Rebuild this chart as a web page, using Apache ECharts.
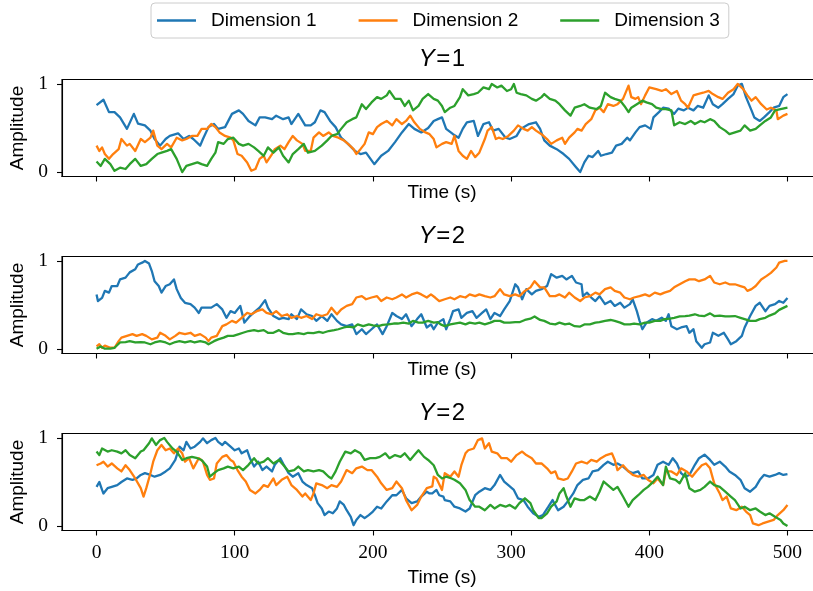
<!DOCTYPE html>
<html>
<head>
<meta charset="utf-8">
<script src="https://cdn.jsdelivr.net/npm/echarts@6/dist/echarts.min.js"></script>
<style>
  html, body { margin: 0; padding: 0; background: #ffffff; }
  #chart { width: 813px; height: 591px; }
</style>
</head>
<body>
<div id="chart"></div>
<script>
// Series names, panel labels and tick positions
const dimensions = ['Dimension 1', 'Dimension 2', 'Dimension 3'];
const panelLabels = ['1', '2', '2'];
const timeTicks = [0, 100, 200, 300, 400, 500];
const ampTicks = [0, 1];

// Panel Y=1 : [time (s), amplitude]
const p1Dim1 = [[0,.76],[5,.82],[9,.68],[13,.68],[17,.62],[22,.49],[27,.66],[30,.55],[35,.53],[39,.47],[42,.375],[46,.30],[50,.375],[53,.41],[59,.44],[63,.375],[67,.41],[70,.375],[75,.30],[77,.375],[81,.51],[85,.545],[88,.49],[93,.51],[98,.66],[103,.70],[106,.66],[110,.58],[115,.53],[118,.62],[122,.62],[127,.60],[130,.64],[135,.60],[139,.62],[141,.545],[146,.66],[151,.53],[155,.53],[158,.565],[162,.70],[165,.68],[169,.58],[173,.51],[177,.39],[182,.32],[187,.24],[191,.205],[195,.22],[201,.09],[206,.185],[211,.24],[216,.34],[221,.45],[226,.545],[230,.49],[235,.45],[240,.50],[244,.58],[247,.60],[250,.62],[253,.49],[258,.43],[262,.39],[265,.49],[268,.565],[273,.58],[276,.41],[280,.545],[284,.565],[287,.47],[291,.49],[296,.39],[299,.375],[304,.41],[307,.49],[313,.545],[318,.565],[321,.49],[324,.36],[328,.30],[333,.26],[338,.205],[342,.15],[347,.055],[350,0],[353,.11],[356,.185],[359,.17],[363,.24],[365,.185],[369,.205],[373,.22],[376,.30],[380,.32],[384,.39],[386,.36],[390,.45],[393,.51],[397,.53],[401,.49],[403,.62],[407,.68],[410,.73],[414,.72],[418,.66],[421,.72],[425,.70],[428,.73],[432,.70],[435,.75],[439,.73],[443,.87],[446,.77],[450,.73],[453,.77],[457,.83],[461,.885],[464,.98],[467,1.0],[470,.85],[474,.70],[476,.62],[480,.58],[483,.62],[487,.68],[490,.73],[494,.75],[497,.85],[500,.885]];
const p1Dim2 = [[0,.30],[2,.24],[4,.28],[6,.205],[9,.15],[12,.205],[16,.26],[18,.375],[22,.30],[24,.32],[28,.24],[32,.375],[35,.34],[39,.39],[41,.47],[44,.30],[47,.26],[51,.32],[54,.28],[58,.39],[62,.36],[65,.375],[69,.41],[73,.41],[76,.49],[80,.49],[83,.545],[86,.51],[89,.45],[93,.41],[97,.39],[99,.36],[102,.205],[105,.185],[109,.11],[112,.015],[115,.035],[118,.15],[121,.185],[123,.11],[127,.205],[129,.26],[133,.30],[136,.26],[139,.34],[142,.41],[145,.36],[149,.32],[151,.24],[155,.24],[157,.39],[161,.45],[164,.41],[168,.45],[171,.41],[175,.39],[179,.36],[182,.32],[186,.26],[188,.205],[191,.26],[194,.32],[197,.45],[200,.43],[203,.51],[206,.545],[210,.58],[214,.53],[217,.60],[221,.545],[224,.58],[227,.64],[230,.565],[234,.49],[238,.45],[241,.43],[244,.375],[246,.28],[250,.32],[253,.34],[257,.32],[259,.41],[262,.24],[265,.185],[268,.15],[271,.24],[274,.17],[277,.22],[281,.375],[283,.47],[286,.51],[289,.375],[291,.39],[294,.375],[298,.41],[302,.47],[305,.53],[309,.49],[312,.47],[315,.51],[318,.47],[322,.43],[326,.375],[329,.32],[333,.36],[337,.39],[339,.32],[342,.39],[346,.45],[348,.49],[351,.47],[354,.545],[358,.60],[361,.70],[364,.73],[367,.68],[370,.77],[374,.75],[377,.77],[381,.83],[385,.98],[387,.85],[390,.83],[392,.85],[394,.77],[397,.87],[400,.96],[405,.94],[409,.92],[412,.94],[416,.885],[420,.92],[423,.81],[426,.77],[428,.73],[432,.87],[435,.885],[439,.90],[443,.92],[446,.885],[450,.85],[453,.83],[457,.90],[461,.94],[464,1.0],[468,.94],[471,.87],[474,.81],[477,.85],[481,.77],[485,.71],[488,.73],[492,.70],[493,.60],[497,.64],[500,.66]];
const p1Dim3 = [[0,.12],[3,.07],[6,.15],[10,.09],[13,.015],[17,.05],[21,.035],[24,.09],[28,.15],[32,.07],[36,.09],[40,.15],[44,.205],[47,.22],[51,.24],[54,.26],[58,.15],[62,0],[65,.07],[69,.09],[73,.11],[76,.09],[80,.07],[83,.15],[86,.22],[88,.34],[92,.32],[95,.375],[99,.39],[103,.32],[106,.30],[110,.32],[114,.28],[117,.24],[121,.185],[124,.28],[128,.22],[132,.28],[135,.185],[139,.11],[142,.205],[146,.26],[150,.32],[153,.22],[158,.24],[163,.30],[167,.36],[170,.41],[174,.43],[177,.49],[181,.565],[185,.60],[188,.62],[192,.77],[195,.715],[199,.79],[203,.85],[206,.83],[210,.87],[212,.92],[216,.83],[220,.83],[223,.75],[226,.81],[229,.70],[233,.75],[236,.83],[240,.885],[244,.83],[247,.81],[250,.75],[252,.68],[256,.73],[259,.75],[263,.85],[265,.94],[269,.87],[273,.885],[276,.90],[280,.96],[284,.94],[286,1.0],[290,.96],[293,.98],[297,.92],[300,.94],[302,1.0],[304,.90],[307,.885],[311,.87],[315,.83],[318,.81],[322,.85],[324,.885],[328,.83],[332,.81],[335,.77],[339,.70],[343,.64],[346,.73],[350,.75],[353,.77],[357,.73],[362,.715],[365,.75],[368,.90],[372,.85],[375,.83],[379,.81],[382,.75],[385,.68],[387,.73],[391,.77],[395,.81],[398,.79],[402,.77],[405,.73],[409,.715],[412,.715],[416,.70],[418,.53],[422,.565],[426,.545],[430,.58],[433,.545],[437,.58],[440,.565],[444,.60],[447,.58],[451,.51],[455,.47],[458,.43],[462,.45],[466,.47],[469,.53],[473,.47],[477,.49],[480,.53],[484,.58],[488,.62],[491,.70],[495,.715],[500,.73]];

// First panel Y=2
const p2Dim1 = [[0,.62],[1,.545],[4,.58],[6,.66],[9,.64],[11,.715],[15,.715],[17,.79],[21,.81],[24,.87],[28,.905],[30,.96],[33,.98],[35,1.0],[38,.97],[40,.885],[42,.77],[45,.715],[47,.64],[50,.715],[53,.735],[56,.79],[58,.68],[61,.58],[64,.525],[68,.51],[71,.47],[74,.41],[76,.47],[80,.47],[83,.47],[87,.51],[91,.45],[94,.355],[97,.43],[100,.41],[104,.49],[107,.30],[111,.375],[115,.43],[118,.47],[122,.555],[124,.47],[128,.375],[132,.34],[135,.355],[139,.34],[141,.395],[145,.34],[148,.45],[152,.395],[156,.375],[159,.32],[163,.375],[167,.32],[170,.395],[174,.32],[177,.28],[181,.26],[185,.28],[188,.17],[192,.225],[195,.17],[199,.225],[203,.28],[207,.17],[210,.26],[214,.41],[217,.375],[221,.34],[224,.395],[228,.26],[232,.34],[235,.395],[239,.245],[242,.28],[244,.225],[247,.30],[251,.34],[253,.225],[256,.34],[258,.43],[262,.45],[264,.355],[268,.41],[272,.43],[275,.355],[279,.41],[282,.45],[285,.34],[288,.41],[292,.375],[295,.45],[299,.545],[303,.735],[305,.70],[308,.565],[311,.68],[315,.62],[318,.66],[322,.68],[326,.715],[329,.85],[333,.81],[337,.83],[340,.79],[344,.83],[347,.755],[351,.735],[352,.60],[355,.64],[358,.585],[361,.545],[364,.60],[368,.51],[372,.545],[375,.49],[379,.525],[382,.47],[386,.51],[388,.565],[391,.43],[393,.32],[395,.225],[398,.30],[402,.34],[405,.32],[409,.355],[412,.32],[414,.395],[416,.26],[420,.225],[423,.245],[427,.26],[429,.185],[432,.225],[434,.09],[438,.015],[440,.055],[444,.075],[446,.185],[450,.15],[454,.185],[457,.11],[459,.055],[463,.09],[467,.15],[469,.245],[473,.375],[477,.49],[480,.525],[484,.43],[487,.49],[491,.51],[494,.545],[497,.525],[500,.58]];
const p2Dim2 = [[0,.03],[2,.055],[4,.015],[6,.04],[10,.015],[13,.015],[16,.09],[18,.13],[22,.15],[26,.17],[29,.15],[33,.17],[36,.15],[40,.11],[44,.13],[46,.185],[50,.15],[53,.11],[57,.15],[60,.185],[64,.17],[68,.185],[71,.15],[75,.17],[79,.13],[81,.09],[83,.13],[87,.15],[91,.26],[94,.28],[98,.32],[101,.30],[105,.355],[109,.41],[112,.395],[116,.43],[120,.45],[123,.41],[127,.395],[130,.43],[134,.375],[138,.395],[141,.355],[145,.375],[148,.355],[152,.375],[156,.34],[159,.395],[163,.375],[167,.395],[170,.47],[174,.395],[177,.45],[181,.49],[185,.51],[188,.585],[192,.60],[195,.565],[199,.585],[203,.60],[206,.545],[210,.585],[214,.565],[217,.585],[221,.62],[224,.585],[228,.62],[232,.64],[235,.62],[239,.585],[242,.62],[245,.585],[248,.545],[252,.565],[256,.585],[259,.565],[263,.60],[267,.585],[270,.62],[274,.60],[277,.62],[281,.60],[285,.585],[288,.60],[292,.68],[295,.62],[299,.60],[303,.62],[306,.60],[310,.66],[314,.70],[317,.77],[321,.70],[324,.70],[328,.60],[332,.60],[335,.62],[339,.585],[342,.64],[346,.585],[350,.545],[353,.585],[357,.60],[361,.64],[364,.62],[368,.68],[372,.70],[375,.66],[379,.64],[382,.585],[386,.565],[389,.585],[393,.60],[397,.62],[400,.60],[404,.64],[408,.62],[411,.64],[415,.66],[418,.70],[422,.735],[426,.77],[429,.79],[433,.79],[436,.77],[440,.79],[444,.83],[447,.755],[451,.735],[455,.755],[458,.735],[462,.735],[466,.715],[469,.70],[471,.66],[474,.68],[477,.715],[481,.79],[485,.83],[488,.865],[492,.925],[494,.98],[498,1.0],[500,1.0]];
const p2Dim3 = [[0,.005],[3,.03],[6,.005],[10,.005],[13,.015],[17,.075],[21,.08],[24,.09],[28,.075],[32,.08],[35,.075],[39,.055],[42,.075],[46,.09],[50,.075],[53,.055],[57,.08],[60,.09],[64,.075],[68,.09],[71,.075],[75,.09],[79,.075],[81,.055],[85,.09],[88,.11],[92,.13],[95,.15],[99,.15],[103,.17],[106,.185],[110,.205],[114,.215],[117,.205],[121,.215],[124,.185],[128,.185],[132,.215],[135,.185],[139,.17],[142,.17],[146,.18],[150,.17],[153,.185],[157,.18],[161,.195],[164,.185],[168,.205],[172,.215],[175,.225],[179,.245],[182,.255],[186,.245],[189,.28],[193,.26],[197,.28],[200,.27],[204,.26],[207,.275],[211,.28],[215,.29],[218,.29],[222,.30],[226,.29],[229,.32],[233,.30],[236,.30],[240,.32],[244,.30],[247,.305],[249,.28],[252,.26],[256,.28],[259,.29],[263,.30],[267,.28],[270,.30],[274,.29],[277,.30],[281,.28],[285,.30],[288,.32],[292,.32],[295,.30],[299,.30],[303,.305],[306,.305],[310,.33],[314,.345],[317,.37],[321,.33],[324,.32],[328,.29],[332,.28],[335,.30],[339,.28],[342,.29],[346,.26],[350,.255],[353,.28],[357,.28],[361,.30],[364,.305],[368,.32],[372,.33],[375,.32],[379,.30],[382,.28],[386,.28],[389,.29],[393,.28],[397,.30],[400,.30],[404,.32],[408,.32],[411,.34],[415,.345],[418,.355],[422,.37],[426,.375],[429,.38],[433,.395],[436,.38],[440,.375],[444,.405],[447,.375],[451,.38],[455,.37],[458,.37],[462,.375],[466,.355],[469,.34],[473,.32],[477,.32],[480,.34],[484,.355],[487,.38],[491,.405],[494,.445],[500,.49]];

// Second panel Y=2
const p3Dim1 = [[0,.445],[2,.50],[4,.41],[5,.37],[8,.43],[11,.445],[15,.465],[18,.50],[22,.54],[26,.525],[29,.54],[32,.58],[35,.60],[39,.58],[42,.56],[46,.58],[50,.62],[53,.655],[57,.75],[60,.90],[63,.86],[65,.955],[68,.88],[71,.90],[75,.955],[77,.995],[80,.94],[83,.975],[86,1.0],[88,.955],[91,.92],[93,.955],[97,.90],[100,.86],[103,.88],[105,.825],[109,.86],[111,.77],[114,.675],[117,.73],[120,.635],[123,.675],[127,.62],[129,.695],[133,.77],[135,.71],[139,.60],[142,.56],[146,.60],[149,.505],[152,.465],[156,.43],[158,.35],[160,.26],[163,.20],[165,.125],[168,.165],[171,.145],[174,.20],[176,.28],[179,.24],[181,.18],[184,.105],[186,.01],[188,.07],[191,.125],[194,.09],[197,.125],[200,.165],[203,.22],[206,.20],[210,.28],[214,.35],[217,.35],[221,.41],[224,.315],[228,.26],[232,.28],[235,.335],[239,.39],[241,.37],[243,.37],[246,.41],[248,.35],[251,.335],[252,.295],[256,.28],[259,.22],[263,.20],[267,.165],[270,.20],[274,.35],[277,.39],[281,.43],[285,.41],[288,.465],[292,.58],[295,.505],[298,.465],[302,.41],[305,.315],[309,.295],[312,.22],[316,.145],[320,.105],[323,.125],[327,.22],[330,.295],[334,.18],[338,.22],[341,.28],[345,.37],[348,.465],[352,.525],[356,.54],[359,.62],[363,.635],[367,.695],[370,.73],[374,.695],[377,.71],[381,.675],[385,.62],[388,.60],[392,.62],[395,.54],[399,.54],[403,.58],[406,.695],[410,.73],[414,.695],[417,.77],[420,.71],[423,.60],[426,.56],[429,.58],[433,.695],[436,.77],[440,.81],[444,.75],[447,.695],[451,.73],[455,.675],[458,.62],[462,.58],[466,.525],[469,.43],[473,.39],[477,.445],[480,.525],[483,.58],[487,.56],[491,.58],[494,.60],[497,.58],[500,.59]];
const p3Dim2 = [[0,.69],[3,.71],[5,.73],[8,.675],[11,.71],[15,.655],[18,.62],[21,.69],[24,.635],[28,.54],[32,.43],[34,.335],[36,.43],[39,.60],[41,.73],[44,.86],[47,.92],[50,.86],[53,.88],[56,.825],[59,.88],[62,.825],[64,.73],[67,.77],[70,.655],[74,.77],[77,.73],[80,.58],[82,.525],[85,.54],[87,.71],[91,.785],[94,.805],[97,.75],[99,.73],[102,.635],[105,.56],[108,.505],[111,.41],[115,.37],[118,.41],[121,.465],[124,.445],[128,.54],[130,.465],[134,.525],[138,.56],[141,.465],[145,.41],[149,.335],[151,.37],[155,.295],[157,.37],[159,.485],[163,.465],[167,.43],[170,.465],[174,.445],[177,.505],[181,.635],[185,.60],[188,.655],[192,.675],[196,.635],[199,.635],[203,.56],[206,.485],[210,.41],[214,.43],[217,.505],[221,.43],[224,.295],[228,.18],[232,.24],[235,.335],[239,.43],[243,.45],[244,.56],[246,.54],[250,.41],[252,.60],[256,.56],[259,.62],[262,.56],[264,.69],[267,.825],[269,.86],[273,.88],[276,.975],[279,.995],[281,.88],[284,.94],[286,.845],[290,.825],[293,.77],[297,.77],[300,.73],[304,.805],[308,.845],[311,.805],[315,.77],[318,.71],[322,.71],[326,.655],[329,.60],[332,.62],[334,.54],[338,.525],[341,.54],[344,.62],[347,.71],[351,.73],[355,.71],[358,.75],[362,.73],[365,.77],[369,.805],[373,.825],[375,.75],[377,.635],[381,.69],[385,.62],[388,.58],[392,.56],[396,.58],[399,.525],[403,.485],[406,.54],[410,.465],[412,.62],[416,.62],[420,.58],[423,.655],[427,.62],[431,.56],[434,.62],[438,.69],[441,.71],[444,.655],[447,.485],[451,.37],[453,.295],[456,.335],[459,.20],[463,.18],[467,.22],[470,.165],[473,.125],[475,.03],[479,.01],[482,.03],[486,.05],[490,.07],[493,.125],[497,.18],[500,.24]];
const p3Dim3 = [[0,.845],[2,.805],[4,.88],[8,.845],[11,.86],[15,.845],[18,.825],[21,.86],[24,.805],[28,.77],[32,.845],[34,.86],[38,.94],[40,.995],[43,.92],[46,.975],[49,1.0],[51,.955],[55,.88],[58,.845],[62,.75],[65,.77],[69,.785],[73,.77],[76,.75],[80,.675],[82,.56],[85,.60],[88,.635],[92,.655],[95,.675],[99,.655],[103,.675],[106,.635],[110,.695],[114,.77],[117,.71],[121,.73],[124,.77],[128,.71],[132,.75],[135,.695],[139,.62],[143,.635],[146,.675],[150,.62],[153,.635],[157,.62],[161,.635],[164,.62],[168,.56],[170,.54],[173,.62],[176,.73],[180,.845],[184,.825],[187,.86],[191,.825],[194,.75],[198,.77],[202,.77],[205,.785],[209,.825],[212,.77],[216,.805],[220,.785],[223,.825],[227,.75],[230,.805],[233,.86],[237,.785],[240,.75],[244,.69],[247,.58],[250,.54],[253,.56],[257,.54],[259,.525],[263,.485],[267,.41],[270,.295],[274,.22],[277,.22],[281,.18],[285,.24],[288,.20],[292,.24],[296,.22],[299,.24],[303,.20],[306,.26],[310,.315],[314,.26],[316,.18],[320,.09],[322,.09],[326,.145],[329,.22],[333,.28],[335,.37],[338,.43],[340,.335],[343,.22],[346,.315],[350,.295],[353,.295],[357,.335],[361,.295],[364,.39],[367,.505],[370,.465],[374,.41],[377,.445],[381,.335],[385,.22],[388,.295],[392,.35],[396,.41],[399,.445],[403,.505],[406,.56],[410,.465],[412,.675],[415,.54],[419,.525],[422,.485],[426,.60],[429,.43],[433,.39],[437,.41],[440,.445],[444,.505],[447,.465],[451,.445],[455,.39],[459,.335],[462,.295],[466,.20],[469,.22],[473,.18],[477,.20],[480,.165],[484,.125],[487,.145],[491,.105],[495,.07],[497,.03],[500,0]];

const panels = [
  [p1Dim1, p1Dim2, p1Dim3],
  [p2Dim1, p2Dim2, p2Dim3],
  [p3Dim1, p3Dim2, p3Dim3]
];

const colors = ['#1f77b4', '#ff7f0e', '#2ca02c'];
const SANS = "'Liberation Sans', Arial, sans-serif";
const SERIF = "'Liberation Serif', 'Times New Roman', serif";

const gridTops = [79.5, 256.5, 433.5];
const titleTops = [47, 224, 401];
const plotLeft = 62, plotWidth = 760, plotHeight = 97;

const grids = [], xAxes = [], yAxes = [], series = [], titles = [];

panels.forEach((lines, i) => {
  const last = i === panels.length - 1;
  grids.push({
    left: plotLeft, top: gridTops[i], width: plotWidth, height: plotHeight,
    outerBoundsMode: 'none', containLabel: false,
    show: true, borderColor: '#000', borderWidth: 1.1, backgroundColor: 'transparent'
  });
  xAxes.push({
    type: 'value', gridIndex: i, min: -25, max: 525,
    name: 'Time (s)', nameLocation: 'middle', nameGap: last ? 38 : 7,
    nameTextStyle: { fontFamily: SANS, fontSize: 19, color: '#000' },
    axisLine: { show: true, onZero: false, lineStyle: { color: '#000', width: 1.1 } },
    axisTick: { show: true, inside: false, length: 5, customValues: timeTicks, lineStyle: { color: '#000', width: 1.1 } },
    axisLabel: { show: last, customValues: timeTicks, margin: 12, fontFamily: SERIF, fontSize: 19.5, color: '#000' },
    splitLine: { show: false }
  });
  yAxes.push({
    type: 'value', gridIndex: i, min: -0.05, max: 1.05,
    name: 'Amplitude', nameLocation: 'middle', nameRotate: 90, nameGap: 32,
    nameTextStyle: { fontFamily: SANS, fontSize: 19, color: '#000' },
    axisLine: { show: true, onZero: false, lineStyle: { color: '#000', width: 1.1 } },
    axisTick: { show: true, inside: false, length: 5, customValues: ampTicks, lineStyle: { color: '#000', width: 1.1 } },
    axisLabel: { show: true, customValues: ampTicks, margin: 14, fontFamily: SERIF, fontSize: 19.5, color: '#000' },
    splitLine: { show: false }
  });
  titles.push({
    text: '{y|Y}{e|=}{n|' + panelLabels[i] + '}',
    left: 442, top: titleTops[i], textAlign: 'center', padding: 0,
    textStyle: {
      fontWeight: 'normal',
      rich: {
        y: { fontFamily: SANS, fontStyle: 'italic', fontWeight: 'normal', fontSize: 24, color: '#000' },
        e: { fontFamily: SANS, fontWeight: 'normal', fontSize: 24, color: '#000', padding: [0, 1.5] },
        n: { fontFamily: SANS, fontWeight: 'normal', fontSize: 24, color: '#000' }
      }
    }
  });
  lines.forEach((pts, j) => {
    series.push({
      type: 'line', name: dimensions[j], xAxisIndex: i, yAxisIndex: i,
      data: pts, showSymbol: false, symbol: 'none', silent: true,
      lineStyle: { color: colors[j], width: 2.3, join: 'round' },
      itemStyle: { color: colors[j] },
      z: 2 + j
    });
  });
});

const chart = echarts.init(document.getElementById('chart'), null, { renderer: 'canvas' });
chart.setOption({
  animation: false,
  backgroundColor: '#ffffff',
  color: colors,
  title: titles,
  legend: {
    data: dimensions, left: 151, top: 3, orient: 'horizontal',
    icon: 'rect', itemWidth: 39, itemHeight: 2.3, itemGap: 42,
    padding: [7, 9, 7, 6],
    backgroundColor: 'rgba(255,255,255,0.8)', borderColor: '#cccccc', borderWidth: 1, borderRadius: 4,
    selectedMode: false,
    textStyle: { fontFamily: SANS, fontSize: 19, color: '#000', lineHeight: 21, padding: [0, 0, 0, 10] }
  },
  grid: grids,
  xAxis: xAxes,
  yAxis: yAxes,
  series: series
});
</script>
</body>
</html>
